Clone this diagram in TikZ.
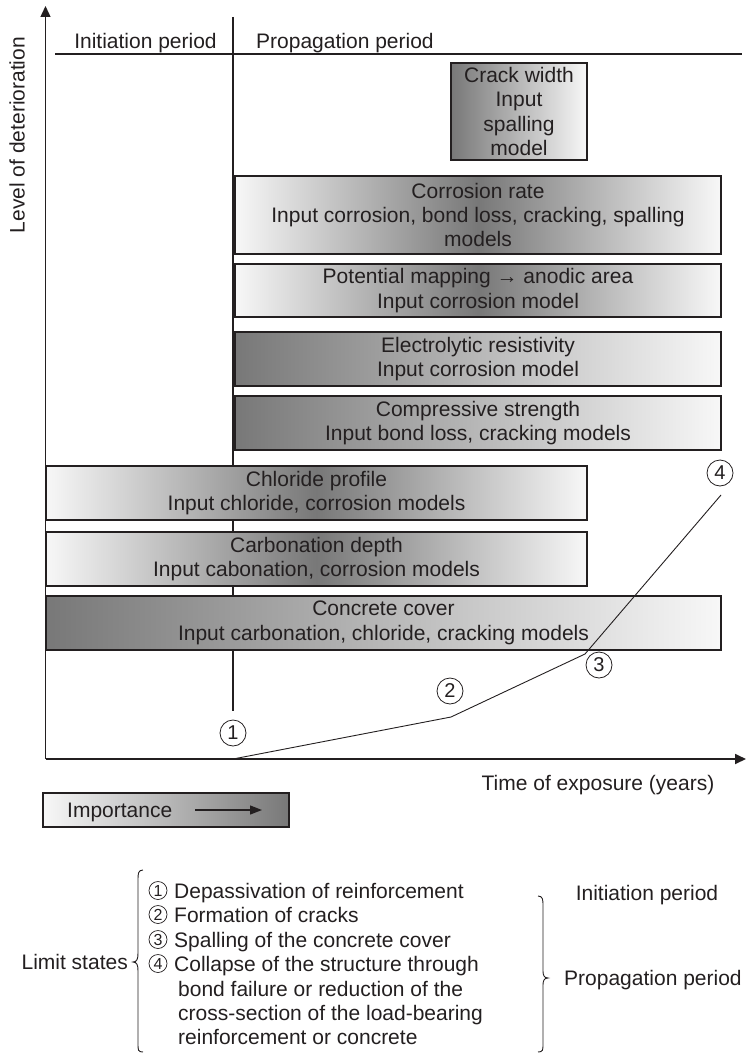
\documentclass[tikz,border=0pt]{standalone}
\usepackage{fontspec}
\setmainfont{Liberation Sans}
\usetikzlibrary{arrows.meta}
\definecolor{txt}{RGB}{35,31,32}
\definecolor{dk}{gray}{0.47}
\definecolor{lt}{gray}{0.97}
\tikzset{
 box/.style={draw=txt, line width=1.1pt, inner sep=0pt, align=center, text=txt, font=\fontsize{21}{24.4}\selectfont},
 darkleft/.style={box, left color=dk, right color=lt},
 darkright/.style={box, left color=lt, right color=dk},
 darkmid/.style={box, left color=lt, right color=lt, middle color=dk},
 lbl/.style={text=txt, font=\fontsize{21}{24.4}\selectfont, inner sep=0pt},
 ln/.style={draw=txt, line width=1.4pt},
 thinln/.style={draw=txt, line width=0.9pt},
 cnum/.style={circle, draw=txt, line width=0.8pt, minimum size=26pt, inner sep=0pt, text=txt, font=\fontsize{20}{20}\selectfont},
 snum/.style={circle, draw=txt, line width=0.7pt, minimum size=18pt, inner sep=0pt, text=txt, font=\fontsize{16}{16}\selectfont},
}
\begin{document}
\begin{tikzpicture}[x=1pt,y=-1pt]
\useasboundingbox (0,0) rectangle (746,1054);
% axes
\coordinate (o) at (45.5,759);
\coordinate (ytip) at (45.5,6);
\coordinate (xtip) at (746,759);
\draw[ln,-{Triangle[length=11pt,width=10pt]}] (o) -- (ytip);
\draw[ln,line width=1.8pt,-{Triangle[length=11pt,width=10pt]}] (o) -- (xtip);
% period lines
\coordinate (vtop) at (233,17);
\coordinate (vbot) at (233,711);
\draw[ln] (vtop) -- (vbot);
\coordinate (hl) at (55,54);
\coordinate (hr) at (742,54);
\draw[ln] (hl) -- (hr);
\node[lbl,anchor=base] (ini) at (145.5,49) {Initiation period};
\node[lbl,anchor=base west] (prop) at (256,49) {Propagation period};
\node[lbl,rotate=90] (ylab) at (17,135) {Level of deterioration};
\node[lbl,anchor=base] (xlab) at (598,790) {Time of exposure (years)};
% boxes
\node[darkleft, minimum width=136pt, minimum height=97pt] (crack) at (519,111.5) {Crack width\\Input\\spalling\\model};
\node[darkmid, minimum width=486pt, minimum height=78pt] (corr) at (478,215) {Corrosion rate\\Input corrosion, bond loss, cracking, spalling\\models};
\node[darkmid, minimum width=486pt, minimum height=53pt] (pot) at (478,290.5) {Potential mapping → anodic area\\Input corrosion model};
\node[darkleft, minimum width=486pt, minimum height=54pt] (elec) at (478,359) {Electrolytic resistivity\\Input corrosion model};
\node[darkleft, minimum width=486pt, minimum height=54pt] (comp) at (478,423) {Compressive strength\\Input bond loss, cracking models};
\node[darkmid, minimum width=541pt, minimum height=54pt] (chl) at (316.5,493) {Chloride profile\\Input chloride, corrosion models};
\node[darkmid, minimum width=541pt, minimum height=54pt] (carb) at (316.5,559) {Carbonation depth\\Input cabonation, corrosion models};
\node[darkleft, minimum width=675pt, minimum height=54pt] (cover) at (383.5,623) {Concrete cover\\Input carbonation, chloride, cracking models};
% deterioration curve
\coordinate (c0) at (233,759);
\coordinate (c1) at (451,717);
\coordinate (c2) at (585,654);
\coordinate (c3) at (721,495);
\draw[thinln] (c0) -- (c1) -- (c2) -- (c3);
\node[cnum] (n1) at (233,733) {1};
\node[cnum] (n2) at (450,691) {2};
\node[cnum] (n3) at (599,665) {3};
\node[cnum] (n4) at (720,473) {4};
% importance
\node[darkright, minimum width=246pt, minimum height=34pt] (imp) at (166,810) {};
\node[lbl,anchor=base west] (impt) at (67,817) {Importance};
\coordinate (ia) at (195,810);
\coordinate (ib) at (262,810);
\draw[thinln,line width=1.3pt,-{Triangle[length=12pt,width=9pt]}] (ia) -- (ib);
% legend
\node[lbl,anchor=base east] (ls) at (128,969) {Limit states};
\coordinate (lbt) at (143,870);
\coordinate (lbb) at (143,1052);
\draw[thinln] (lbt) .. controls (138,870) and (138,874) .. (138,880) -- (138,953)
  .. controls (138,959) and (137,962) .. (133,962)
  .. controls (137,962) and (138,965) .. (138,971) -- (138,1044)
  .. controls (138,1050) and (138,1052) .. (lbb);
\coordinate (rbt) at (538,896);
\coordinate (rbb) at (538,1052);
\draw[thinln] (rbt) .. controls (543,896) and (543,900) .. (543,906) -- (543,971)
  .. controls (543,975) and (544,978) .. (548,978)
  .. controls (544,978) and (543,981) .. (543,985) -- (543,1044)
  .. controls (543,1050) and (543,1052) .. (rbb);
\node[snum] (l1) at (158,890.5) {1};
\node[snum] (l2) at (158,914.5) {2};
\node[snum] (l3) at (158,939.5) {3};
\node[snum] (l4) at (158,963.5) {4};
\node[lbl,anchor=base west] (t1) at (174,898) {Depassivation of reinforcement};
\node[lbl,anchor=base west] (t2) at (174,922) {Formation of cracks};
\node[lbl,anchor=base west] (t3) at (174,947) {Spalling of the concrete cover};
\node[lbl,anchor=base west] (t4) at (174,971) {Collapse of the structure through};
\node[lbl,anchor=base west] (t5) at (178,996) {bond failure or reduction of the};
\node[lbl,anchor=base west] (t6) at (178,1020) {cross-section of the load-bearing};
\node[lbl,anchor=base west] (t7) at (178,1044) {reinforcement or concrete};
\node[lbl,anchor=base] (pi) at (647,900) {Initiation period};
\node[lbl,anchor=base west] (pp) at (564,985) {Propagation period};
\end{tikzpicture}
\end{document}
